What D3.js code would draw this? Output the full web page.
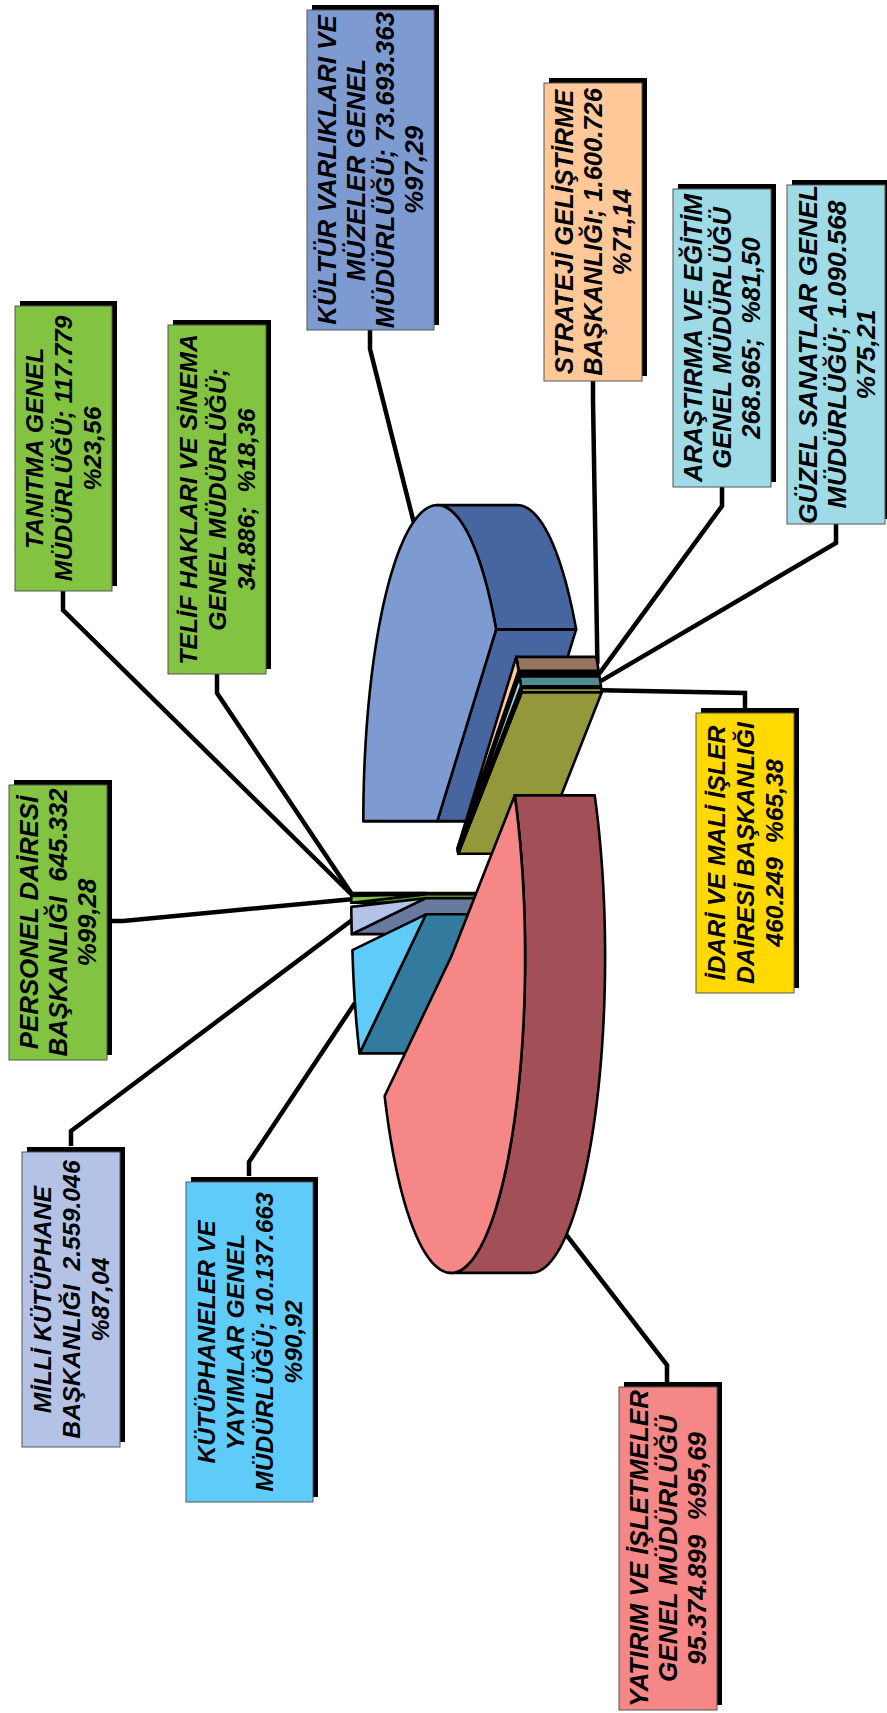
<!DOCTYPE html>
<html>
<head>
<meta charset="utf-8">
<script src="https://cdn.jsdelivr.net/npm/d3@7"></script>
<style>
    html, body { margin: 0; padding: 0; background: #fff; }
    svg { display: block; }
    text { font-family: "Liberation Sans", Arial, sans-serif; font-weight: bold; font-style: italic; white-space: pre; }
</style>
</head>
<body>
<div id="chart"></div>
<script>
const width = 887;
const height = 1713;

const categories = ['Kültür', 'Strateji', 'Araştırma', 'Güzel Sanatlar', 'İdari', 'Yatırım', 'Kütüphaneler', 'Milli Kütüphane', 'Personel', 'Tanıtma', 'Telif'];
const values = [73693363, 1600726, 268965, 1090568, 460249, 95374899, 10137663, 2559046, 645332, 117779, 34886];
const labelLines = [
    ['KÜLTÜR VARLIKLARI VE', 'MÜZELER GENEL', 'MÜDÜRLÜĞÜ; 73.693.363', '%97,29'],
    ['STRATEJİ GELİŞTİRME', 'BAŞKANLIĞI; 1.600.726', '%71,14'],
    ['ARAŞTIRMA VE EĞİTİM', 'GENEL MÜDÜRLÜĞÜ', '268.965;  %81,50'],
    ['GÜZEL SANATLAR GENEL', 'MÜDÜRLÜĞÜ; 1.090.568', '%75,21'],
    ['İDARİ VE MALİ İŞLER', 'DAİRESİ BAŞKANLIĞI', '460.249  %65,38'],
    ['YATIRIM VE İŞLETMELER', 'GENEL MÜDÜRLÜĞÜ', '95.374.899  %95,69'],
    ['KÜTÜPHANELER VE', 'YAYIMLAR GENEL', 'MÜDÜRLÜĞÜ; 10.137.663', '%90,92'],
    ['MİLLİ KÜTÜPHANE', 'BAŞKANLIĞI  2.559.046', '%87,04'],
    ['PERSONEL DAİRESİ', 'BAŞKANLIĞI  645.332', '%99,28'],
    ['TANITMA GENEL', 'MÜDÜRLÜĞÜ; 117.779', '%23,56'],
    ['TELİF HAKLARI VE SİNEMA', 'GENEL MÜDÜRLÜĞÜ;', '34.886;  %18,36'],
];

const topColors = ['#7e9bd1', '#ffc898', '#9fdbe7', '#9fdbe7', '#ffd900', '#f58787', '#5fcbf8', '#b4c3e5', '#82c341', '#82c341', '#82c341'];
const sideColors = ['#4766a0', '#96735f', '#5c9aa6', '#4f8b8e', '#93993a', '#a34f58', '#327a9e', '#67799d', '#5a8a2e', '#5a8a2e', '#5a8a2e'];

// painter's order, back slices first
const drawOrder = [0, 1, 2, 3, 4, 10, 9, 8, 7, 6, 5];

// label boxes: x0, y0, x1, y1, the leader's start and elbow, and the text size
const boxes = [
    { x0: 307, y0: 10, x1: 434, y1: 330, from: [370, 330], elbow: [370, 349], size: 26 },
    { x0: 544, y0: 83, x1: 642, y1: 381, from: [593, 381], elbow: [593, 400], size: 25.5 },
    { x0: 673, y0: 189, x1: 771, y1: 487, from: [722, 487], elbow: [722, 506], size: 25.5 },
    { x0: 787, y0: 185, x1: 885, y1: 524, from: [836, 524], elbow: [836, 543], size: 26.5 },
    { x0: 696, y0: 713, x1: 794, y1: 993, from: [745, 708], elbow: [745, 693], size: 24.8 },
    { x0: 619, y0: 1387, x1: 717, y1: 1710, from: [667, 1382], elbow: [667, 1365], size: 26 },
    { x0: 186, y0: 1182, x1: 313, y1: 1502, from: [249, 1176], elbow: [249, 1162], size: 24.6 },
    { x0: 22, y0: 1152, x1: 120, y1: 1447, from: [71, 1146], elbow: [71, 1131], size: 24.8 },
    { x0: 9, y0: 785, x1: 107, y1: 1060, from: [112, 921], elbow: [123, 921], size: 25.8 },
    { x0: 15, y0: 306, x1: 112, y1: 591, from: [63, 591], elbow: [63, 610], size: 24.8 },
    { x0: 168, y0: 325, x1: 266, y1: 674, from: [217, 674], elbow: [217, 693], size: 24.8 },
];

const shadowDx = 5;
const shadowDy = -5;
const lineHeight = 29;

const depth = 80;
const explode = [0.24, 0.24, 0.24, 0.24, 0.24, 0.23, 0.24, 0.24, 0.24, 0.24, 0.24];

// unit circle to the squashed pie on the page
const xScale = d3.scaleLinear().domain([-1, 1]).range([443 - 74, 443 + 74]);
const yScale = d3.scaleLinear().domain([-1, 1]).range([893 - 316, 893 + 316]);

const svg = d3.select('#chart')
    .append('svg')
    .attr('width', width)
    .attr('height', height)
    .attr('viewBox', [0, 0, width, height]);

const pie = d3.pie()
    .sort(null)
    .startAngle(-Math.PI / 2)
    .endAngle(Math.PI * 1.5);

const slices = pie(values).map((slice, i) => {
    const mid = (slice.startAngle + slice.endAngle) / 2;
    const ox = explode[i] * Math.sin(mid);
    const oy = -explode[i] * Math.cos(mid);
    const toPage = (a, r = 1) => [xScale(ox + r * Math.sin(a)), yScale(oy - r * Math.cos(a))];

    const sweep = (from, to) => {
        const steps = Math.max(2, Math.ceil((to - from) * 40));
        return d3.range(steps + 1).map(s => toPage(from + (to - from) * s / steps));
    };

    // only the right half of the rim can be seen
    const rimFrom = Math.max(slice.startAngle, 0);
    const rimTo = Math.min(slice.endAngle, Math.PI);

    return {
        i,
        mid,
        startAngle: slice.startAngle,
        endAngle: slice.endAngle,
        apex: toPage(0, 0),
        arcPoints: sweep(slice.startAngle, slice.endAngle),
        rimPoints: rimTo > rimFrom ? sweep(rimFrom, rimTo) : null,
        midPoint: toPage(mid),
    };
});

const line = d3.line();
const shift = p => [p[0] + depth, p[1]];

// leaders go under the pie
svg.append('g')
    .selectAll('path')
    .data(slices)
    .join('path')
    .attr('d', d => {
        const end = Math.sin(d.mid) > 0 ? shift(d.midPoint) : d.midPoint;
        return line([boxes[d.i].from, boxes[d.i].elbow, end]);
    })
    .attr('fill', 'none')
    .attr('stroke', '#000')
    .attr('stroke-width', 4.5);

// label boxes
const labels = svg.append('g')
    .selectAll('g')
    .data(boxes)
    .join('g');

labels.append('rect')
    .attr('x', d => d.x0 + shadowDx)
    .attr('y', d => d.y0 + shadowDy)
    .attr('width', d => d.x1 - d.x0)
    .attr('height', d => d.y1 - d.y0)
    .attr('fill', '#000');

labels.append('rect')
    .attr('x', d => d.x0)
    .attr('y', d => d.y0)
    .attr('width', d => d.x1 - d.x0)
    .attr('height', d => d.y1 - d.y0)
    .attr('fill', (d, i) => topColors[i])
    .attr('stroke', '#555')
    .attr('stroke-width', 1);

labels.each(function(d, i) {
    const lines = labelLines[i];
    const g = d3.select(this).append('g')
        .attr('transform', `translate(${(d.x0 + d.x1) / 2},${(d.y0 + d.y1) / 2}) rotate(-90)`);

    g.selectAll('text')
        .data(lines)
        .join('text')
        .attr('text-anchor', 'middle')
        .attr('y', (l, j) => (j - (lines.length - 1) / 2) * lineHeight + d.size * 0.36)
        .attr('font-size', d.size)
        .attr('fill', '#000')
        .text(l => l);
});

// pie slices
const pieGroup = svg.append('g')
    .attr('stroke', '#000')
    .attr('stroke-width', 2.6)
    .attr('stroke-linejoin', 'round');

drawOrder.forEach(idx => {
    const d = slices[idx];
    const first = d.arcPoints[0];
    const last = d.arcPoints[d.arcPoints.length - 1];
    const g = pieGroup.append('g').attr('data-name', categories[idx]);

    // a wall shows only when the extrusion points away from the slice
    const walls = [];
    if (Math.cos(d.startAngle) < 1e-6) walls.push(first);
    if (Math.cos(d.endAngle) > 1e-6) walls.push(last);

    walls.forEach(p => {
        g.append('path')
            .attr('d', line([d.apex, p, shift(p), shift(d.apex)]) + 'Z')
            .attr('fill', sideColors[idx]);
    });

    if (d.rimPoints) {
        g.append('path')
            .attr('d', line(d.rimPoints.concat(d.rimPoints.slice().reverse().map(shift))) + 'Z')
            .attr('fill', sideColors[idx]);
    }

    g.append('path')
        .attr('d', line([d.apex].concat(d.arcPoints)) + 'Z')
        .attr('fill', topColors[idx]);
});
</script>
</body>
</html>
